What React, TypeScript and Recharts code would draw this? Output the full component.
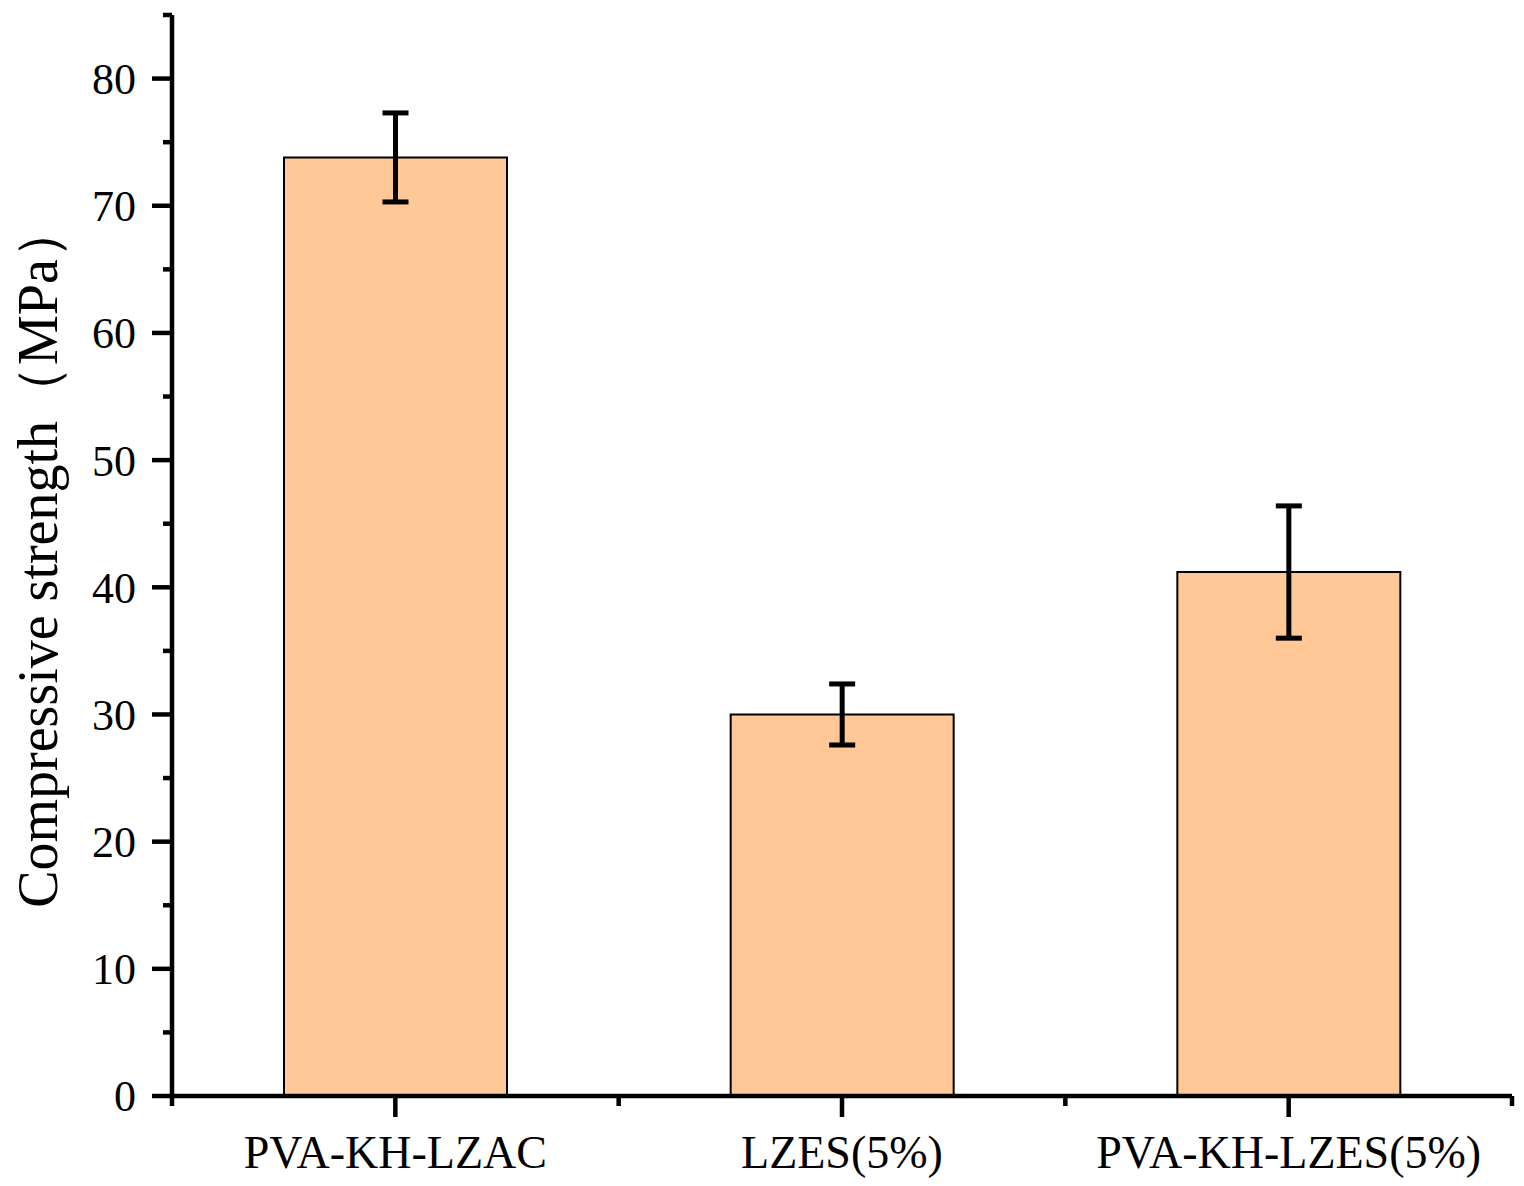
import { Bar, BarChart, ErrorBar, Label, XAxis, YAxis } from "recharts";

const categories = ["PVA-KH-LZAC", "LZES(5%)", "PVA-KH-LZES(5%)"];
const strength = [73.8, 30.0, 41.2];
const strengthError = [3.5, 2.4, 5.2];
const yTicks = [0, 5, 10, 15, 20, 25, 30, 35, 40, 45, 50, 55, 60, 65, 70, 75, 80, 85];
const xTicks = [0, 0.5, 1, 1.5, 2, 2.5, 3];

const data = categories.map((name, i) => ({
  name,
  pos: i + 0.5,
  strength: strength[i],
  err: strengthError[i],
}));

const FONT = '"Liberation Serif", "Times New Roman", serif';
const AXIS_W = 4.5;

function YTick(props: any) {
  const { x, y, payload } = props;
  const major = payload.value % 10 === 0 && payload.value <= 80;
  return (
    <g>
      <line x1={x} y1={y} x2={x - (major ? 20 : 9)} y2={y} stroke="#000" strokeWidth={AXIS_W} />
      {major && (
        <text x={x - 36} y={y} dy="0.35em" textAnchor="end" fontFamily={FONT} fontSize={44} fill="#000">
          {payload.value}
        </text>
      )}
    </g>
  );
}

function XTick(props: any) {
  const { x, y, payload } = props;
  const idx = payload.value - 0.5;
  const major = Number.isInteger(idx);
  return (
    <g>
      <line x1={x} y1={y} x2={x} y2={y + (major ? 21 : 10)} stroke="#000" strokeWidth={AXIS_W} />
      {major && (
        <text x={x} y={y + 72} textAnchor="middle" fontFamily={FONT} fontSize={46} fill="#000">
          {categories[idx]}
        </text>
      )}
    </g>
  );
}

export default function App() {
  return (
    <div style={{ position: "absolute", left: 0, top: 0, background: "#fff" }}>
      <BarChart
        width={1524}
        height={1186}
        data={data}
        margin={{ top: 15, right: 12, bottom: 0, left: 0 }}
      >
        <XAxis
          dataKey="pos"
          type="number"
          domain={[0, 3]}
          ticks={xTicks}
          interval={0}
          height={90}
          tickSize={0}
          tickMargin={0}
          tickLine={false}
          tick={<XTick />}
          axisLine={{ stroke: "#000", strokeWidth: AXIS_W }}
        />
        <XAxis
          xAxisId="top"
          orientation="top"
          type="number"
          domain={[0, 3]}
          height={0}
          tick={false}
          tickLine={false}
          axisLine={{ stroke: "#000", strokeWidth: AXIS_W }}
        />
        <YAxis
          type="number"
          domain={[0, 85]}
          ticks={yTicks}
          interval={0}
          width={172}
          tickSize={0}
          tickMargin={0}
          tickLine={false}
          tick={<YTick />}
          axisLine={{ stroke: "#000", strokeWidth: AXIS_W }}
        >
          <Label
            content={(props: any) => {
              const vb = props.viewBox;
              const cx = vb.x + 37;
              const cy = vb.y + vb.height / 2;
              return (
                <text
                  x={cx}
                  y={cy}
                  dy="0.35em"
                  textAnchor="middle"
                  transform={`rotate(-90 ${cx} ${cy})`}
                  fontFamily={FONT}
                  fontSize={56}
                  fill="#000"
                >
                  Compressive strength（MPa）
                </text>
              );
            }}
          />
        </YAxis>
        <YAxis
          yAxisId="right"
          orientation="right"
          domain={[0, 85]}
          width={0}
          tick={false}
          tickLine={false}
          axisLine={{ stroke: "#000", strokeWidth: AXIS_W }}
        />
        <Bar
          dataKey="strength"
          fill="#FFC896"
          stroke="#000"
          strokeWidth={2}
          barSize={223}
          isAnimationActive={false}
        >
          <ErrorBar dataKey="err" width={13} stroke="#000" strokeWidth={5} direction="y" />
        </Bar>
      </BarChart>
    </div>
  );
}
